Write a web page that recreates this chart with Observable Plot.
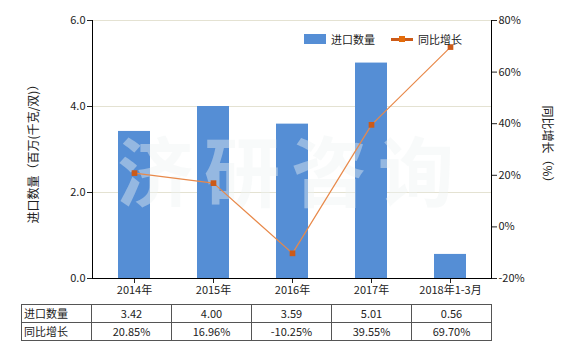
<!DOCTYPE html>
<html><head><meta charset="utf-8">
<script src="https://cdn.jsdelivr.net/npm/d3@7"></script>
<script src="https://cdn.jsdelivr.net/npm/@observablehq/plot@0.6"></script>
<style>
body{margin:0;background:#fff;font-family:"Noto Sans CJK SC","Noto Sans",sans-serif;color:#222;}
#wrap{position:relative;width:580px;height:350px;overflow:hidden;}
#chart{position:absolute;left:0;top:0;}
.title{position:absolute;white-space:nowrap;font-size:12px;color:#222;}
.legend{position:absolute;font-size:11px;color:#222;white-space:nowrap;}
table{position:absolute;left:21px;top:304px;border-collapse:collapse;font-size:11px;color:#222;}
td{border:1px solid #555;height:17px;padding:0;text-align:center;line-height:17px;}
td.head{text-align:left;padding-left:2px;width:67px;}
td.val{width:79px;}
</style></head><body><div id="wrap"><div id="chart"></div></div>
<script>
const categories = ["2014年","2015年","2016年","2017年","2018年1-3月"];
const importQty = [3.42, 4.00, 3.59, 5.01, 0.56];
const yoyGrowth = [20.85, 16.96, -10.25, 39.55, 69.70];
const leftTicks = [0, 2, 4, 6];
const rightTicks = [-20, 0, 20, 40, 60, 80];
const qtyLabel = "进口数量";
const growthLabel = "同比增长";
const leftTitle = "进口数量（百万(千克/双)）";
const rightTitle = "同比增长（%）";
const watermark = "济研咨询";

const barColor = "#558ED5";
const lineColor = "#E8894A";
const dotColor = "#CC5A18";

// right axis (percent) mapped onto left axis domain [0,6] <-> [-20,80]
const toLeft = p => (p + 20) * 0.06;
const fromLeft = v => Math.round(v / 0.06 - 20);

const rows = categories.map((c, i) => ({cat: c, qty: importQty[i], yoy: yoyGrowth[i], yoyY: toLeft(yoyGrowth[i])}));

const chart = Plot.plot({
  width: 580, height: 300,
  marginLeft: 92, marginRight: 89, marginTop: 20, marginBottom: 22,
  style: {fontFamily: '"Noto Sans CJK SC","Noto Sans",sans-serif', fontSize: "11px", color: "#222", background: "transparent"},
  x: {domain: categories, paddingInner: 0.6, paddingOuter: 0.3, label: null},
  y: {domain: [0, 6], label: null},
  marks: [
    Plot.gridY(leftTicks, {stroke: "#e4e2d2", strokeOpacity: 1}),
    Plot.barY(rows, {x: "cat", y: "qty", fill: barColor}),
    Plot.text([watermark], {frameAnchor: "middle", text: d => d, fontSize: 76, fontWeight: "bold", fill: "#eef2f3", fillOpacity: 0.42, dy: 27, dx: -1}),
    Plot.line(rows, {x: "cat", y: "yoyY", stroke: lineColor, strokeWidth: 1.2}),
    Plot.dot(rows, {x: "cat", y: "yoyY", symbol: "square", r: 3.2, fill: dotColor, stroke: "none"}),
    Plot.axisY(leftTicks, {anchor: "left", tickFormat: d => d.toFixed(1), tickSize: 5, tickPadding: 2, label: null}),
    Plot.axisY(rightTicks.map(toLeft), {anchor: "right", tickFormat: d => fromLeft(d) + "%", tickSize: 5, tickPadding: 2, label: null}),
    Plot.axisX({tickSize: 5, tickPadding: 3, label: null}),
    Plot.frame({anchor: "left", stroke: "#000"}),
    Plot.frame({anchor: "right", stroke: "#000"}),
    Plot.frame({anchor: "bottom", stroke: "#000"})
  ]
});
document.getElementById("chart").append(chart);
d3.select(chart).selectAll("text").filter(function(){return this.textContent === watermark;})
  .style("letter-spacing", "11px");

const wrap = d3.select("#wrap");
// axis titles
wrap.append("div").attr("class", "title").text(leftTitle)
  .style("left", "32px").style("top", "151px").style("transform", "translate(-50%,-50%) rotate(-90deg)");
wrap.append("div").attr("class", "title").text(rightTitle)
  .style("left", "548px").style("top", "147px").style("transform", "translate(-50%,-50%) rotate(90deg)");

// legend
wrap.append("div").attr("class", "legend")
  .style("left", "304px").style("top", "34px").style("width", "22px").style("height", "10px").style("background", barColor);
wrap.append("div").attr("class", "legend").text(qtyLabel).style("left", "331px").style("top", "31px");
wrap.append("div").attr("class", "legend")
  .style("left", "391px").style("top", "38px").style("width", "22px").style("height", "3px").style("background", dotColor);
wrap.append("div").attr("class", "legend")
  .style("left", "399px").style("top", "36px").style("width", "6px").style("height", "6px").style("background", "#E46C0A");
wrap.append("div").attr("class", "legend").text(growthLabel).style("left", "418px").style("top", "31px");

// data table
const table = wrap.append("table");
const r1 = table.append("tr");
r1.append("td").attr("class", "head").text(qtyLabel);
importQty.forEach(v => r1.append("td").attr("class", "val").text(v.toFixed(2)));
const r2 = table.append("tr");
r2.append("td").attr("class", "head").text(growthLabel);
yoyGrowth.forEach(v => r2.append("td").attr("class", "val").text(v.toFixed(2) + "%"));
</script></body></html>
